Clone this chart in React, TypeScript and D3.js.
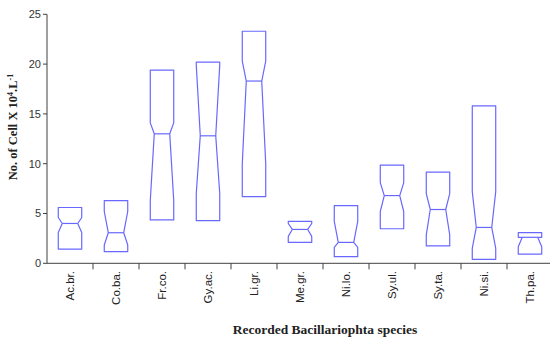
import React from "react";
import * as d3 from "d3";

// species codes along the x axis
const species = ["Ac.br.", "Co.ba.", "Fr.co.", "Gy.ac.", "Li.gr.", "Me.gr.", "Ni.lo.", "Sy.ul.", "Sy.ta.", "Ni.si.", "Th.pa."];

// box statistics (No. of cell x 10^4 / L)
const q3 = [5.6, 6.3, 19.4, 20.2, 23.3, 4.2, 5.8, 9.85, 9.15, 15.8, 3.07];
const notchHi = [4.6, 5.2, 14.1, 19.9, 20.3, 4.0, 4.2, 8.1, 7.0, 7.2, 2.61];
const median = [4.0, 3.07, 13.0, 12.8, 18.3, 3.4, 2.1, 6.8, 5.4, 3.6, 2.61];
const notchLo = [3.1, 1.84, 6.3, 7.0, 10.0, 2.7, 1.6, 5.2, 2.85, 1.5, 1.67];
const q1 = [1.43, 1.17, 4.35, 4.28, 6.7, 2.1, 0.67, 3.47, 1.74, 0.4, 0.93];

const yTicks = [0, 5, 10, 15, 20, 25];

export default function App() {
  const width = 552;
  const height = 343;
  const left = 47;
  const bottom = 263.3;

  const x = d3.scaleBand().domain(species).range([left, 553]).padding(0);
  const y = d3.scaleLinear().domain([0, 25]).range([bottom, 14.3]);

  const bw = x.bandwidth();
  const hw = bw * 0.255;
  const inset = 4;
  const boxColor = "#6868ff";
  const axisColor = "#404040";

  return (
    <svg
      width={width}
      height={height}
      style={{ position: "absolute", left: 0, top: 0, background: "#fff" }}
    >
      {/* boxes */}
      <g fill="none" stroke={boxColor} strokeWidth={1.2}>
        {species.map((s, i) => {
          const cx = (x(s) as number) + bw / 2;
          const L = cx - hw;
          const R = cx + hw;
          const Li = L + inset;
          const Ri = R - inset;
          const path = d3.path();
          path.moveTo(L, y(q3[i]));
          path.lineTo(R, y(q3[i]));
          path.lineTo(R, y(notchHi[i]));
          path.lineTo(Ri, y(median[i]));
          path.lineTo(R, y(notchLo[i]));
          path.lineTo(R, y(q1[i]));
          path.lineTo(L, y(q1[i]));
          path.lineTo(L, y(notchLo[i]));
          path.lineTo(Li, y(median[i]));
          path.lineTo(L, y(notchHi[i]));
          path.closePath();
          return (
            <g key={s}>
              <path d={path.toString()} strokeLinejoin="round" />
              <line x1={Li} x2={Ri} y1={y(median[i])} y2={y(median[i])} />
            </g>
          );
        })}
      </g>

      {/* y axis */}
      <g stroke={axisColor} strokeWidth={1}>
        <line x1={left} x2={left} y1={y(25)} y2={bottom} />
        {yTicks.map((t) => (
          <line key={t} x1={left - 4} x2={left} y1={y(t)} y2={y(t)} />
        ))}
      </g>
      <g fontFamily="'Liberation Sans', Arial, sans-serif" fontSize={11} fill="#333" textAnchor="end">
        {yTicks.map((t) => (
          <text key={t} x={left - 6} y={y(t)} dy="0.35em">
            {t}
          </text>
        ))}
      </g>

      {/* x axis */}
      <g stroke={axisColor} strokeWidth={1}>
        <line x1={left} x2={550} y1={bottom} y2={bottom} />
        {species.slice(1).map((s) => (
          <line key={s} x1={x(s)} x2={x(s)} y1={bottom} y2={bottom + 6} />
        ))}
      </g>
      <g fontFamily="'Liberation Sans', Arial, sans-serif" fontSize={11.5} fill="#222" textAnchor="end">
        {species.map((s) => (
          <text
            key={s}
            transform={`translate(${(x(s) as number) + bw / 2},271) rotate(-90)`}
            dy="0.35em"
          >
            {s}
          </text>
        ))}
      </g>

      {/* axis titles */}
      <text
        transform="translate(13,127) rotate(-90)"
        textAnchor="middle"
        fontFamily="'Liberation Serif', 'Times New Roman', serif"
        fontWeight="bold"
        fontSize={12.5}
        fill="#222"
        dy="0.35em"
      >
        No. of Cell X 10
        <tspan dy="-4" fontSize={8}>4</tspan>
        <tspan dy="4">.L</tspan>
        <tspan dy="-4" fontSize={8}>-1</tspan>
      </text>
      <text
        x={325}
        y={334}
        textAnchor="middle"
        fontFamily="'Liberation Serif', 'Times New Roman', serif"
        fontWeight="bold"
        fontSize={13.5}
        fill="#222"
      >
        Recorded Bacillariophta species
      </text>
    </svg>
  );
}
